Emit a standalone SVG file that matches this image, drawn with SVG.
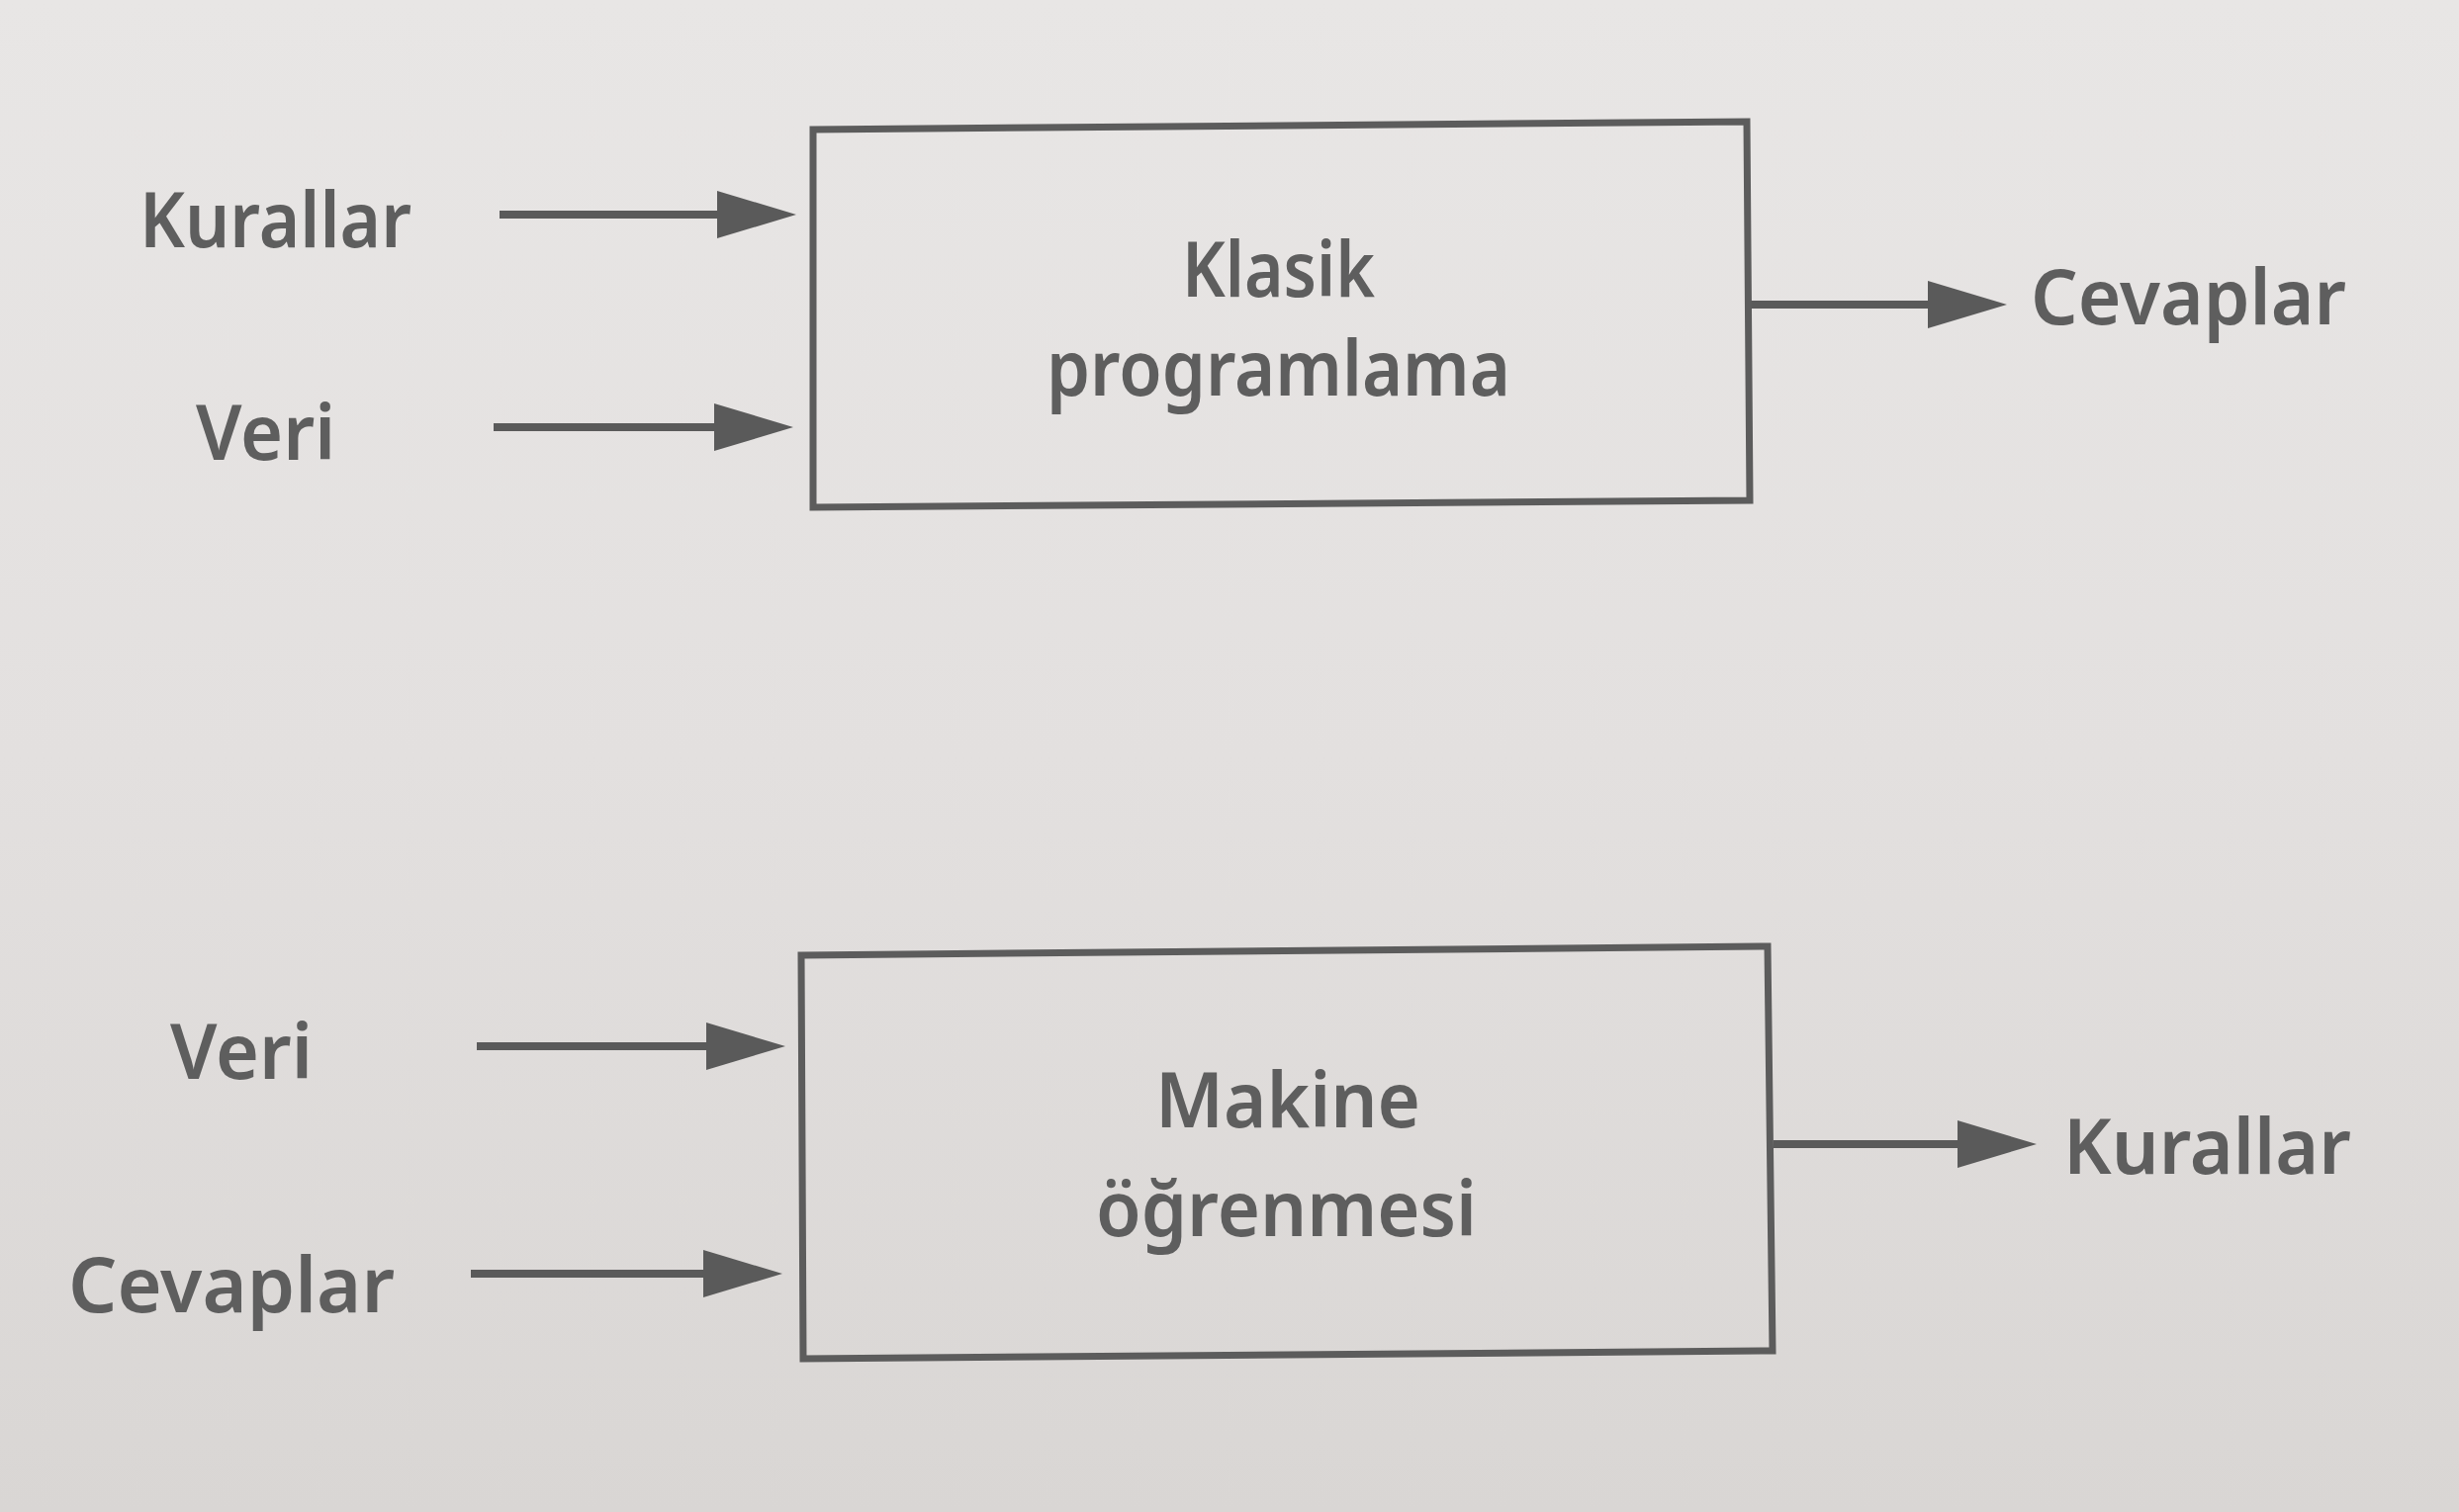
<svg xmlns="http://www.w3.org/2000/svg" width="2486" height="1529" viewBox="0 0 2486 1529">
  <defs>
    <linearGradient id="bg" x1="0" y1="0" x2="0" y2="1">
      <stop offset="0" stop-color="#e8e6e5"/>
      <stop offset="0.5" stop-color="#e3e0df"/>
      <stop offset="1" stop-color="#d9d6d4"/>
    </linearGradient>
    <marker id="ah" viewBox="0 0 10 6" markerWidth="10" markerHeight="6" refX="0.5" refY="3" orient="auto" markerUnits="strokeWidth">
      <path d="M0,0 L10,3 L0,6 Z" fill="#5a5a5a"/>
    </marker>
    <style>
      .box { fill: none; stroke: #5c5c5c; stroke-width: 7; stroke-linejoin: miter; }
      .conn { stroke: #5a5a5a; stroke-width: 8; fill: none; marker-end: url(#ah); }
      .lbl { font-family: "Noto Sans", "Open Sans", sans-serif; font-size: 78px; font-weight: 600; fill: #5e5e5e; }
    </style>
  </defs>
  <rect x="0" y="0" width="2486" height="1529" fill="url(#bg)"/>

  <g id="connectors">
    <line class="conn" x1="505" y1="217" x2="729" y2="217"/>
    <line class="conn" x1="499" y1="432" x2="726" y2="432"/>
    <line class="conn" x1="1770" y1="308" x2="1953" y2="308"/>
    <line class="conn" x1="482" y1="1058" x2="718" y2="1058"/>
    <line class="conn" x1="476" y1="1288" x2="715" y2="1288"/>
    <line class="conn" x1="1793" y1="1157" x2="1983" y2="1157"/>
  </g>

  <g id="node-klasik">
    <polygon class="box" points="822,131 1766,123 1769,506 822,513"/>
    <text class="lbl" x="1195" y="300" textLength="195" lengthAdjust="spacingAndGlyphs">Klasik</text>
    <text class="lbl" x="1058" y="400" textLength="469" lengthAdjust="spacingAndGlyphs">programlama</text>
  </g>

  <g id="node-makine">
    <polygon class="box" points="810,966 1787,957 1792,1366 812,1374"/>
    <text class="lbl" x="1168" y="1140" textLength="268" lengthAdjust="spacingAndGlyphs">Makine</text>
    <text class="lbl" x="1108" y="1250" textLength="385" lengthAdjust="spacingAndGlyphs">öğrenmesi</text>
  </g>

  <g id="label-kurallar-in">
    <text class="lbl" x="141" y="250" textLength="275" lengthAdjust="spacingAndGlyphs">Kurallar</text>
  </g>
  <g id="label-veri-in">
    <text class="lbl" x="198" y="465" textLength="141" lengthAdjust="spacingAndGlyphs">Veri</text>
  </g>
  <g id="label-cevaplar-out">
    <text class="lbl" x="2053" y="328" textLength="319" lengthAdjust="spacingAndGlyphs">Cevaplar</text>
  </g>
  <g id="label-veri-in2">
    <text class="lbl" x="172" y="1091" textLength="144" lengthAdjust="spacingAndGlyphs">Veri</text>
  </g>
  <g id="label-cevaplar-in2">
    <text class="lbl" x="69" y="1327" textLength="330" lengthAdjust="spacingAndGlyphs">Cevaplar</text>
  </g>
  <g id="label-kurallar-out2">
    <text class="lbl" x="2086" y="1187" textLength="291" lengthAdjust="spacingAndGlyphs">Kurallar</text>
  </g>
</svg>
